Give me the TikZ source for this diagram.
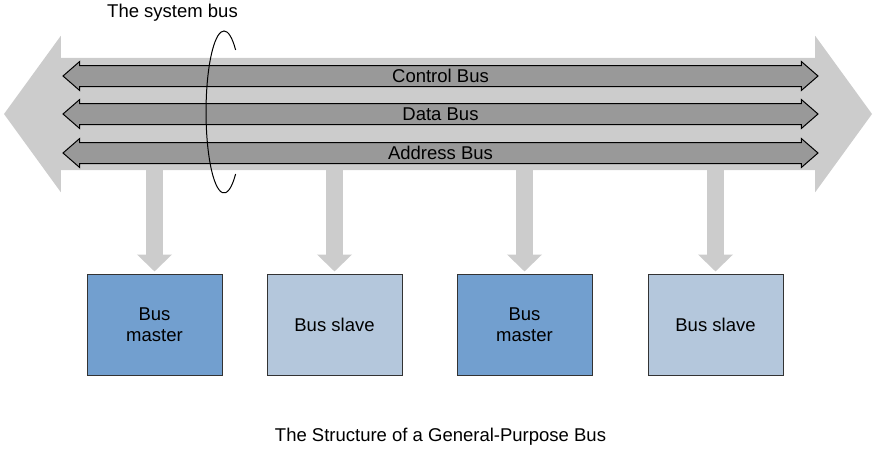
\documentclass[tikz,border=0pt]{standalone}
\usepackage{fontspec}
\setmainfont{Liberation Sans}
\usetikzlibrary{shapes.arrows,arrows.meta}
\definecolor{buslight}{HTML}{CCCCCC}
\definecolor{busdark}{HTML}{999999}
\definecolor{masterblue}{HTML}{729FCF}
\definecolor{slaveblue}{HTML}{B4C7DC}

\begin{document}
\begin{tikzpicture}[x=1pt,y=-1pt,every node/.style={font=\fontsize{18.5}{20.5}\selectfont},
    sysbus/.style={double arrow,fill=buslight,minimum height=868pt,minimum width=156pt,
      double arrow head extend=22pt,double arrow tip angle=108,inner xsep=0pt,inner ysep=56pt,
      text height=0pt,text depth=0pt},
    busline/.style={double arrow,draw=black,line width=1pt,fill=busdark,minimum height=755pt,
      minimum width=28pt,double arrow head extend=4pt,double arrow tip angle=82,inner xsep=0pt,
      inner ysep=3.5pt,text height=13pt,text depth=0pt},
    unit/.style={draw=black!80,line width=1pt,minimum width=135pt,minimum height=101pt,
      align=center,inner sep=0pt},
    stem/.style={draw=buslight,line width=17pt,-{Triangle[length=17pt,width=34pt]},shorten >=2pt}]
          \path[use as bounding box] (0,0) rectangle (875,451);
          \coordinate (axis) at (438,114);
          \node[unit,fill=masterblue] (m1) at (154.5,324.5) {Bus\\master};
          \node[unit,fill=slaveblue] (s1) at (334.5,324.5) {Bus slave};
          \node[unit,fill=masterblue] (m2) at (524.5,324.5) {Bus\\master};
          \node[unit,fill=slaveblue] (s2) at (715.5,324.5) {Bus slave};
          \foreach \u in {m1,s1,m2,s2} \draw[stem] (\u.north |- axis) -- (\u.north);
          \node[sysbus] (sys) at (axis) {};
          \node[busline] (ctl) at (440.5,76) {Control Bus};
          \node[busline] (dat) at (440.5,114) {Data Bus};
          \node[busline] (adr) at (440.5,153) {Address Bus};
          % ring round the three lines
          \draw[line width=1pt] (235.6,174) arc[start angle=50,end angle=310,x radius=18,y radius=81];
          \node (lbl) at (172.5,13) {The system bus};
          \node (cap) at (440.5,437) {The Structure of a General-Purpose Bus};
        \end{tikzpicture}
\end{document}
